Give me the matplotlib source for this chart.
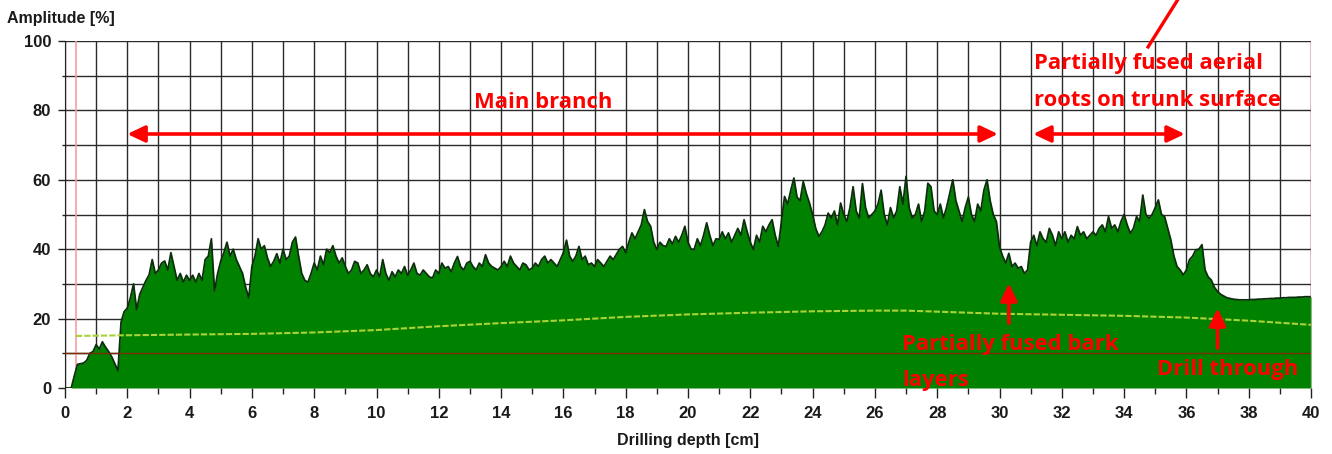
import matplotlib.pyplot as plt
import numpy as np

# drilling resistance profile, one value every 0.1 cm (0 .. 40 cm)
amplitude = [
    0, 0, 0, 3.5, 6.8, 7.0, 7.2, 8.0, 10.0, 10.5,
    12.5, 11.2, 13.3, 11.8, 10.5, 9.0, 7.0, 5.0, 19.0, 22.0,
    23, 26, 30, 22.6, 27, 29, 31, 32.6, 37, 33,
    34, 36, 36.6, 34, 39, 35, 31, 33, 30.5, 32.5,
    31, 32.5, 30.5, 33, 31, 37, 38, 43, 28, 33,
    36.6, 39, 42, 38, 40, 37, 35, 33, 29, 26,
    35, 38, 43, 40, 41, 37.5, 35, 36.5, 38.7, 36,
    40, 37, 38, 42, 43.5, 38, 33, 31, 30.5, 33,
    36, 34, 38, 35.5, 40, 39, 41, 38, 36, 37.5,
    35, 33, 34, 36.5, 36, 33, 34, 35.5, 33, 32,
    34, 32, 37, 33, 31, 33.5, 32, 34, 33, 35,
    32.5, 34, 36, 33, 32.5, 34, 33, 32, 31.7, 34,
    33, 36, 34.5, 35, 33.5, 36, 37.9, 35, 34, 36,
    36.5, 35, 34, 36, 35, 38.4, 36, 35, 34.5, 34,
    35, 36.5, 35, 38, 36, 35, 34, 36, 35.5, 34,
    34.6, 36, 35, 37, 38, 36, 37, 36, 35, 37,
    39, 42.6, 38, 36.5, 38, 40.8, 37, 38, 35.5, 36,
    35, 37, 36, 35, 36.5, 38, 37, 38.5, 40, 40.8,
    39, 42, 44.7, 43, 45, 47, 51.4, 48, 46.6, 42,
    39.9, 42, 41, 40.8, 43, 41.5, 43.7, 42, 44, 46.6,
    42, 40, 40, 43, 41, 44, 47.6, 44, 41, 43,
    42.8, 45, 43, 44.7, 42, 44, 46, 44, 48.5, 45,
    42, 39.9, 44, 42, 46.6, 45, 47, 48.5, 44, 40.8,
    48, 55.2, 53, 57, 60.5, 55, 54, 59.5, 56, 53.3,
    50, 46, 43.7, 45, 47, 50.4, 49, 51, 47, 53.3,
    50, 48, 52, 58, 51, 49, 58.9, 52, 49, 50,
    51, 53, 57, 50, 47, 52, 49, 51, 58, 53,
    61, 52, 49, 50, 53, 48, 51, 59, 58, 51,
    50, 53, 49, 52, 56, 60, 54, 51, 48, 52,
    55, 50, 48, 53, 51, 57, 60, 54, 50, 48,
    40.7, 38, 36, 38.8, 35, 36, 34.5, 35, 33, 34,
    42, 44, 41, 45, 43, 42, 46, 44, 41, 45,
    43, 45, 42, 44, 43, 46.5, 44, 45, 43, 44,
    45, 44, 46, 47, 45, 49.4, 46, 47, 45, 48,
    50, 47, 44.6, 46, 49.4, 48, 55.6, 50, 48.9, 50,
    52, 54.2, 50, 49.4, 46, 42.7, 38, 35, 34, 32.6,
    34, 37, 38, 39.8, 40, 41.3, 34, 32, 31.1, 29,
    27.8, 27, 26.5, 26, 25.8, 25.6, 25.5, 25.4, 25.4, 25.4,
    25.4, 25.5, 25.5, 25.6, 25.6, 25.7, 25.7, 25.8, 25.8, 25.9,
    25.9, 26.0, 26.0, 26.1, 26.1, 26.1, 26.2, 26.2, 26.3, 26.3,
    26.3,
]
depth = np.linspace(0, 40, len(amplitude))

# moving trend line
trend_depth = [0.35, 2, 4, 6, 8, 10, 12, 14, 16, 18, 20, 22, 24, 26, 27, 28, 30, 32, 34, 36, 38, 40]
trend_amp = [15.0, 15.2, 15.4, 15.6, 16.0, 16.7, 17.8, 18.7, 19.5, 20.5, 21.2, 21.7,
             22.1, 22.3, 22.3, 22.0, 21.4, 21.1, 20.8, 20.3, 19.4, 18.2]

threshold = 10
start_mark = 0.35

x_ticks = list(range(0, 41, 2))
y_ticks = list(range(0, 101, 20))

RED = '#ff0000'
plt.rcParams['font.family'] = ['Liberation Sans', 'DejaVu Sans']

fig = plt.figure(figsize=(13.32, 4.54), dpi=100)
ax = fig.add_axes([65 / 1332, 1 - 388 / 454, 1246 / 1332, 347 / 454])

ax.set_xlim(0, 40)
ax.set_ylim(0, 100)

# grid every 1 cm / 10 %
ax.set_xticks(x_ticks)
ax.set_xticks(range(0, 41), minor=True)
ax.set_yticks(y_ticks)
ax.set_yticks(range(0, 101, 10), minor=True)
ax.grid(which='both', color='#2a2a2a', lw=1.0)
ax.set_axisbelow(True)

ax.fill_between(depth, 0, amplitude, color='#008200', lw=0, zorder=3)
ax.plot(depth, amplitude, color='#0c2e0c', lw=1.3, zorder=4)
ax.plot(trend_depth, trend_amp, color='#a9d238', lw=1.5, ls=(0, (3, 1)), zorder=5)
ax.axhline(threshold, color='#7a2a05', lw=1.0, zorder=5)
ax.axvline(start_mark, color='#f4a0a0', lw=1.2, zorder=2)
ax.axvline(40, color='#e07070', lw=1.0, zorder=6)

for side in ['top', 'right', 'bottom']:
    ax.spines[side].set_visible(False)
ax.spines['left'].set_color('#222222')

ax.tick_params(axis='x', which='major', length=7, width=1, color='#222222', pad=6)
ax.tick_params(axis='x', which='minor', length=4, width=1, color='#222222')
ax.tick_params(axis='y', which='major', length=5, width=1, color='#222222', pad=5)
ax.tick_params(axis='y', which='minor', length=2, width=1, color='#222222')
for lab in ax.get_xticklabels() + ax.get_yticklabels():
    lab.set_fontsize(12)
    lab.set_fontweight('bold')
    lab.set_color('#1a1a1a')

fig.text(7 / 1332, 1 - 18 / 454, 'Amplitude [%]', ha='left', va='center',
         fontsize=11.5, fontweight='bold', color='#1a1a1a')
fig.text(688 / 1332, 1 - 440 / 454, 'Drilling depth [cm]', ha='center', va='center',
         fontsize=11.5, fontweight='bold', color='#1a1a1a')

# annotations
note = dict(color=RED, fontsize=15.8, fontweight='bold', family=['Open Sans', 'DejaVu Sans'],
            zorder=10, clip_on=False)
double = dict(arrowstyle='<|-|>,head_length=1.05,head_width=0.5', color=RED, lw=2.6,
              shrinkA=0, shrinkB=0)
single = dict(arrowstyle='-|>,head_length=1.05,head_width=0.5', color=RED, lw=2.6,
              shrinkA=0, shrinkB=0)

ax.annotate('', xy=(2.0, 73.2), xytext=(29.95, 73.2), arrowprops=double, zorder=10)
ax.annotate('', xy=(31.08, 73.2), xytext=(35.95, 73.2), arrowprops=double, zorder=10)
ax.annotate('', xy=(30.3, 30.2), xytext=(30.3, 18.7), arrowprops=single, zorder=10)
ax.annotate('', xy=(37.0, 23.0), xytext=(37.0, 11.5), arrowprops=single, zorder=10)
ax.plot([34.77, 35.8], [98.3, 113], color=RED, lw=2.4, clip_on=False, zorder=10)

ax.text(15.35, 82.4, 'Main branch', ha='center', va='center', **note)
ax.text(31.1, 88.2, 'Partially fused aerial\nroots on trunk surface', ha='left',
        va='center', linespacing=1.95, **note)
ax.text(26.87, 7.3, 'Partially fused bark\nlayers', ha='left', va='center',
        linespacing=1.95, **note)
ax.text(35.06, 5.2, 'Drill through', ha='left', va='center', **note)

fig.savefig('out.png', dpi=100)
